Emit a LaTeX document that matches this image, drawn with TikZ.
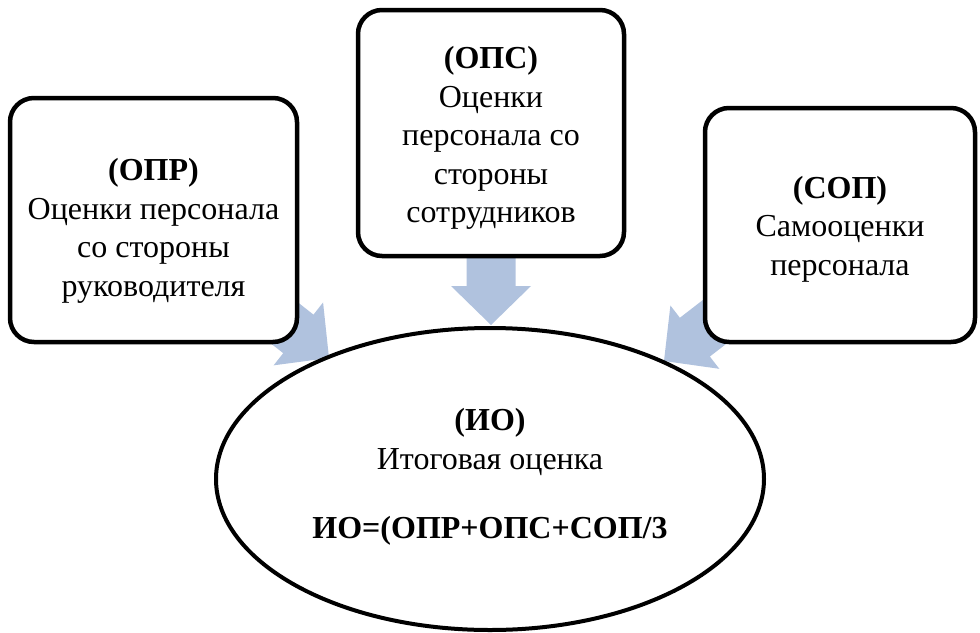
\documentclass[tikz,border=0pt]{standalone}
\usepackage{fontspec}
\setmainfont{Liberation Serif}
\usetikzlibrary{calc,shapes.geometric,backgrounds}
\definecolor{arrowblue}{RGB}{176,194,222}
\tikzset{
  box/.style={draw=black, line width=4.5pt, rounded corners=24pt, fill=white, inner sep=0pt},
  oval/.style={draw=black, line width=4pt, ellipse, fill=white, inner sep=0pt},
  txt/.style={align=center, inner sep=0pt, font=\fontsize{32pt}{38.5pt}\selectfont}
}
\newcommand\blockarrow[3]{%
  \coordinate (#1h) at ($(#3)!39pt!(#2)$);
  \fill[arrowblue] ($(#2)!24.5pt!90:(#3)$) -- ($(#1h)!24.5pt!90:(#3)$) -- ($(#1h)!40pt!90:(#3)$)
    -- (#3) -- ($(#1h)!40pt!-90:(#3)$) -- ($(#1h)!24.5pt!-90:(#3)$) -- ($(#2)!24.5pt!-90:(#3)$) -- cycle;
}
\begin{document}
\begin{tikzpicture}[x=1pt,y=-1pt]
\useasboundingbox (0,0) rectangle (980,632);
% boxes
\node[box, minimum width=287pt, minimum height=244pt] (lbox) at (153.5,220) {};
\node[box, minimum width=266pt, minimum height=246pt] (tbox) at (491,133) {};
\node[box, minimum width=270pt, minimum height=234pt] (rbox) at (840,225) {};
\node[oval, minimum width=548pt, minimum height=302pt] (ell) at (490,479) {};
% arrows
\coordinate (ltip) at (329,358);
\coordinate (ttip) at (491,325);
\coordinate (rtip) at (664,361);
\begin{scope}[on background layer]
\blockarrow{la}{lbox.center}{ltip}
\blockarrow{ta}{tbox.center}{ttip}
\blockarrow{ra}{rbox.center}{rtip}
\end{scope}
% texts
\node[txt] (ltext) at (153.5,231) {\textbf{(ОПР)}\\Оценки персонала\\со стороны\\руководителя};
\node[txt] (ttext) at (491,138) {\textbf{(ОПС)}\\Оценки\\персонала со\\стороны\\сотрудников};
\node[txt] (rtext) at (840,229) {\textbf{(СОП)}\\Самооценки\\персонала};
\node[txt] (etext) at (490,477) {\textbf{(ИО)}\\Итоговая оценка\\[31pt]\textbf{ИО=(ОПР+ОПС+СОП/3}};
\end{tikzpicture}
\end{document}
